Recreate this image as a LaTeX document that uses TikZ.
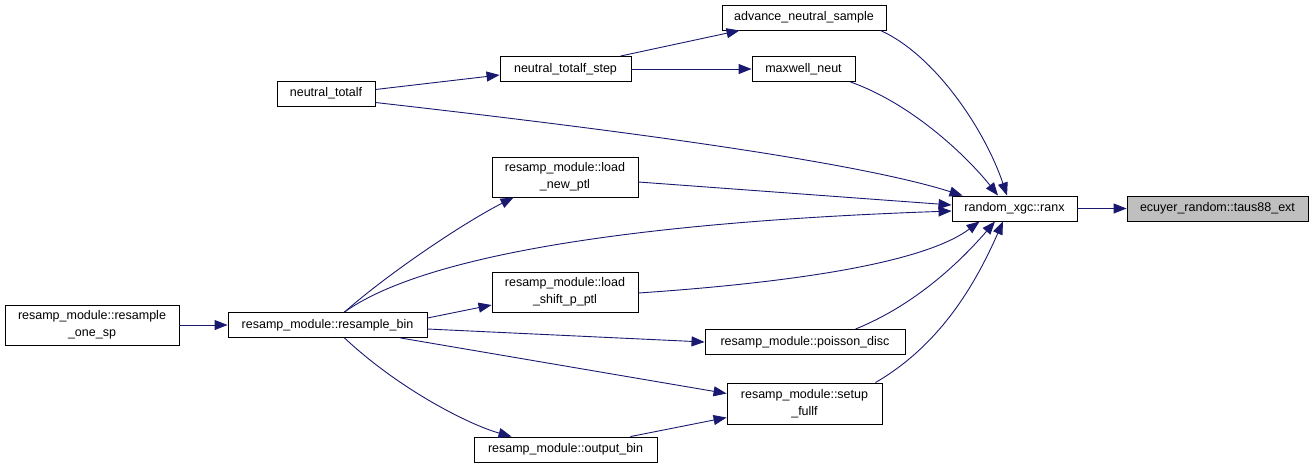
\documentclass[tikz,border=0pt]{standalone}
\usepackage{fontspec}
\setmainfont{Liberation Sans}
\usepackage{tikz}
\usetikzlibrary{arrows.meta, calc}
\definecolor{edgeblue}{HTML}{191970}
\definecolor{selgray}{HTML}{BFBFBF}
\tikzstyle{fn} = [draw=black, line width=0.9pt, inner sep=0pt, minimum height=25pt, align=center, font=\fontsize{12.5}{16.5}\selectfont]
\tikzstyle{call} = [draw=edgeblue, line width=0.9pt, -{Triangle[length=13pt,width=10pt]}, edgeblue]

\begin{document}
\begin{tikzpicture}[x=1pt, y=-1pt]
    \useasboundingbox (0,0) rectangle (1315,475);

      % Nodes
      \node[fn, fill=selgray, minimum width=181pt] (taus) at (1217.5,208.5) {ecuyer\_random::taus88\_ext};
      \node[fn, minimum width=125pt] (ranx) at (1014.5,208.5) {random\_xgc::ranx};
      \node[fn, minimum width=164pt] (adv) at (804,17.5) {advance\_neutral\_sample};
      \node[fn, minimum width=103pt] (maxw) at (803.5,69) {maxwell\_neut};
      \node[fn, minimum width=131pt] (step) at (565.5,69) {neutral\_totalf\_step};
      \node[fn, minimum width=98pt] (totalf) at (326,93.5) {neutral\_totalf};
      \node[fn, minimum width=146pt, minimum height=40pt] (loadnew) at (565,177) {resamp\_module::load\\\_new\_ptl};
      \node[fn, minimum width=146pt, minimum height=40pt] (loadshift) at (565,292) {resamp\_module::load\\\_shift\_p\_ptl};
      \node[fn, minimum width=200pt] (poisson) at (805,342) {resamp\_module::poisson\_disc};
      \node[fn, minimum width=155pt, minimum height=41pt] (setup) at (804.5,403.5) {resamp\_module::setup\\\_fullf};
      \node[fn, minimum width=183pt] (outbin) at (565.5,449.5) {resamp\_module::output\_bin};
      \node[fn, minimum width=199pt] (resbin) at (327.5,325) {resamp\_module::resample\_bin};
      \node[fn, minimum width=174pt, minimum height=40pt] (onesp) at (92,325) {resamp\_module::resample\\\_one\_sp};

      %Edges
      \draw[call] (ranx.east) -- (taus.west);
      \draw[call] ($(totalf.east)+(0,-4)$) -- ($(step.west)+(0,6)$);
      \draw[call] ($(step.north east)+(-11,0)$) -- ($(adv.south west)+(18,0)$);
      \draw[call] (step.east) -- (maxw.west);
      \draw[call] ($(adv.south east)+(-6,0)$) .. controls (935,55) and (985,130) .. ($(ranx.north)+(-7.5,0)$);
      \draw[call] ($(maxw.south east)+(-5,0)$) .. controls (915,105) and (970,160) .. ($(ranx.north)+(-16.5,0)$);
      \draw[call] ($(totalf.east)+(0,9)$) .. controls (600,128) and (850,160) .. ($(ranx.north west)+(11,0)$);
      \draw[call] ($(loadnew.east)+(0,5)$) -- ($(ranx.west)+(0,-3.5)$);
      \draw[call] ($(resbin.north)+(17,0)$) .. controls (400,272) and (550,225) .. ($(ranx.west)+(0,2.5)$);
      \draw[call] ($(loadshift.east)+(0,1)$) .. controls (800,282) and (925,262) .. ($(ranx.south west)+(28,0)$);
      \draw[call] ($(poisson.north east)+(-50,0)$) .. controls (915,305) and (960,262) .. ($(ranx.south)+(-19.5,0)$);
      \draw[call] ($(setup.north east)+(-7,0)$) .. controls (940,345) and (975,285) .. ($(ranx.south)+(-11.5,0)$);
      \draw[call] (onesp.east) -- (resbin.west);
      \draw[call] ($(resbin.north)+(17,0)$) .. controls (390,272) and (465,222) .. ($(loadnew.south west)+(22,0)$);
      \draw[call] ($(resbin.east)+(0,-7)$) -- ($(loadshift.west)+(0,13)$);
      \draw[call] ($(resbin.east)+(0,4)$) -- (poisson.west);
      \draw[call] ($(resbin.south east)+(-27,0)$) -- ($(setup.west)+(0,-10)$);
      \draw[call] ($(resbin.south)+(17,0)$) .. controls (400,390) and (470,425) .. ($(outbin.north west)+(38,0)$);
      \draw[call] ($(outbin.north east)+(-27,0)$) -- ($(setup.west)+(0,14)$);

  \end{tikzpicture}
\end{document}
